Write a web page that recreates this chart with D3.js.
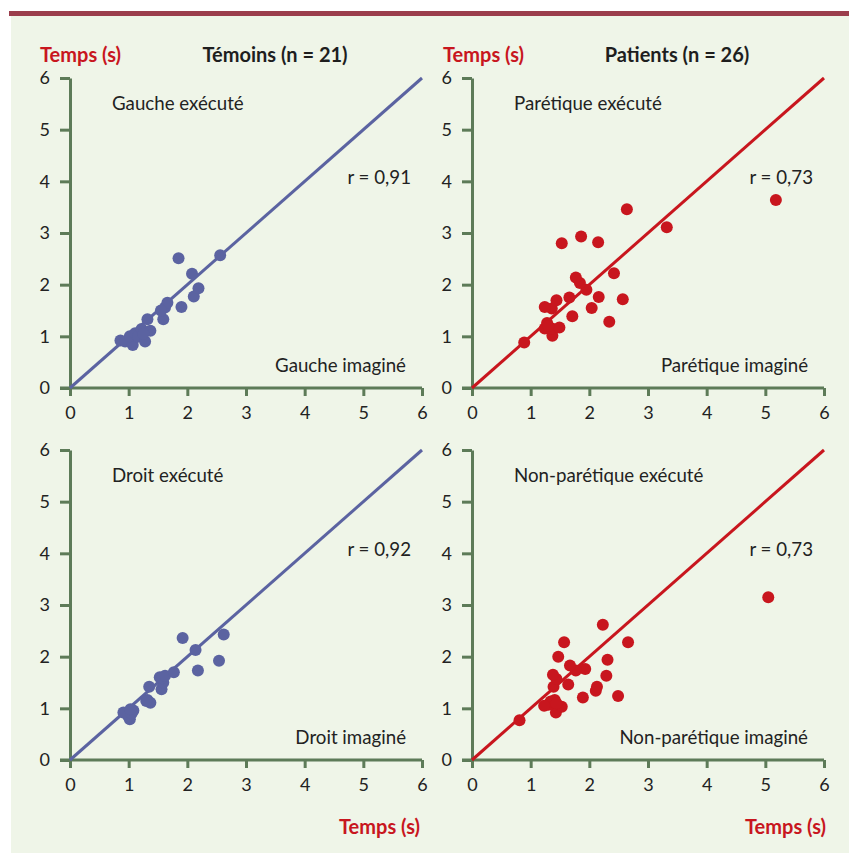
<!DOCTYPE html>
<html>
<head>
<meta charset="utf-8">
<script src="https://cdn.jsdelivr.net/npm/d3@7"></script>
<style>
  body { margin: 0; background: #fff; }
  svg text { font-family: Lato, "Open Sans", sans-serif; }
</style>
</head>
<body>
<div id="chart"></div>
<script>
// axis ticks
const ticks = [0, 1, 2, 3, 4, 5, 6];

// Témoins, gauche
const gaucheX = [0.86, 0.94, 1.07, 1.02, 1.11, 1.16, 1.22, 1.28, 1.32, 1.37, 1.25, 1.59, 1.62, 1.66, 1.55, 1.90, 1.85, 2.11, 2.19, 2.08, 2.56];
const gaucheY = [0.92, 0.90, 0.83, 1.00, 1.06, 0.99, 1.14, 0.90, 1.33, 1.11, 1.05, 1.33, 1.56, 1.65, 1.50, 1.57, 2.51, 1.77, 1.93, 2.21, 2.57];

// Patients, parétique
const pareX = [0.89, 1.37, 1.24, 1.36, 1.49, 1.28, 1.30, 2.34, 1.71, 2.04, 1.36, 1.24, 1.44, 2.57, 2.16, 1.66, 1.95, 1.84, 1.77, 2.42, 2.15, 1.86, 1.53, 3.32, 2.64, 5.18];
const pareY = [0.88, 1.01, 1.15, 1.15, 1.17, 1.26, 1.20, 1.28, 1.39, 1.55, 1.54, 1.57, 1.70, 1.72, 1.76, 1.75, 1.90, 2.03, 2.14, 2.22, 2.82, 2.93, 2.80, 3.11, 3.46, 3.64];

// Témoins, droit
const droitX = [0.91, 1.08, 1.02, 0.99, 1.05, 1.03, 1.32, 1.37, 1.30, 1.35, 1.56, 1.59, 1.53, 1.57, 1.62, 1.77, 2.18, 2.54, 2.14, 1.92, 2.62];
const droitY = [0.92, 0.96, 0.79, 0.85, 0.90, 0.98, 1.16, 1.11, 1.14, 1.42, 1.37, 1.50, 1.60, 1.58, 1.63, 1.70, 1.73, 1.92, 2.13, 2.36, 2.43];

// Patients, non-parétique
const nonPareX = [0.81, 1.43, 1.53, 1.30, 1.41, 1.34, 1.44, 1.23, 2.49, 1.89, 2.11, 2.13, 1.39, 1.64, 2.29, 1.44, 1.38, 1.93, 1.77, 1.67, 2.31, 1.47, 1.57, 2.66, 2.23, 5.05];
const nonPareY = [0.77, 0.92, 1.03, 1.07, 1.16, 1.13, 1.10, 1.05, 1.24, 1.21, 1.34, 1.42, 1.42, 1.46, 1.63, 1.57, 1.65, 1.76, 1.73, 1.83, 1.94, 2.00, 2.28, 2.28, 2.62, 3.15];

const panels = [
  {x: gaucheX, y: gaucheY, color: "#5b63a1", left: 70, top: 78, top_label: "Gauche exécuté", bottom_label: "Gauche imaginé", r: "r = 0,91"},
  {x: pareX, y: pareY, color: "#c8161e", left: 472, top: 78, top_label: "Parétique exécuté", bottom_label: "Parétique imaginé", r: "r = 0,73"},
  {x: droitX, y: droitY, color: "#5b63a1", left: 70, top: 450, top_label: "Droit exécuté", bottom_label: "Droit imaginé", r: "r = 0,92"},
  {x: nonPareX, y: nonPareY, color: "#c8161e", left: 472, top: 450, top_label: "Non-parétique exécuté", bottom_label: "Non-parétique imaginé", r: "r = 0,73"}
];

const width = 849, height = 857;
const panel_width = 352, panel_height = 310;
const axisColor = "#5d7b58";
const red = "#c8161e";

const svg = d3.select("#chart")
    .append("svg")
    .attr("width", width)
    .attr("height", height);

// background and top bar
svg.append("rect")
    .attr("x", 11).attr("y", 16)
    .attr("width", width - 11).attr("height", height - 20)
    .attr("fill", "#eff5e8");
svg.append("rect")
    .attr("x", 9).attr("y", 11)
    .attr("width", width - 9).attr("height", 5)
    .attr("fill", "#9b3e4c");

panels.forEach(p => {
    const x = d3.scaleLinear().domain([0, 6]).range([0, panel_width]);
    const y = d3.scaleLinear().domain([0, 6]).range([panel_height, 0]);

    const g = svg.append("g")
        .attr("transform", `translate(${p.left},${p.top})`);

    const yAxis = g.append("g")
        .call(d3.axisLeft(y).tickValues(ticks).tickFormat(d3.format("d")).tickSize(10).tickSizeOuter(0).tickPadding(10));
    const xAxis = g.append("g")
        .attr("transform", `translate(0,${panel_height})`)
        .call(d3.axisBottom(x).tickValues(ticks).tickFormat(d3.format("d")).tickSize(8).tickSizeOuter(0).tickPadding(10));

    [xAxis, yAxis].forEach(a => {
        a.selectAll("path, line")
            .attr("stroke", axisColor)
            .attr("stroke-width", 3);
        a.selectAll("text")
            .attr("fill", "#222")
            .style("font-size", "18px");
    });
    xAxis.select(".domain").attr("d", `M-10,0H${panel_width}`);

    // y = x line
    g.append("line")
        .attr("x1", x(0)).attr("y1", y(0))
        .attr("x2", x(6)).attr("y2", y(6))
        .attr("stroke", p.color)
        .attr("stroke-width", 3);

    g.selectAll("circle")
        .data(p.x.map((v, i) => [v, p.y[i]]))
        .enter()
        .append("circle")
        .attr("cx", d => x(d[0]))
        .attr("cy", d => y(d[1]))
        .attr("r", 6)
        .attr("fill", p.color);

    g.append("text")
        .attr("x", 42).attr("y", 32)
        .attr("fill", "#222")
        .style("font-size", "18.7px")
        .text(p.top_label);
    g.append("text")
        .attr("x", 341).attr("y", 106)
        .attr("text-anchor", "end")
        .attr("fill", "#222")
        .style("font-size", "18.7px")
        .text(p.r);
    g.append("text")
        .attr("x", 336).attr("y", panel_height - 16)
        .attr("text-anchor", "end")
        .attr("fill", "#222")
        .style("font-size", "18.7px")
        .text(p.bottom_label);
});

// column headers
[{x: 40, title: "Témoins (n = 21)", cx: 275}, {x: 443, title: "Patients (n = 26)", cx: 677}].forEach(c => {
    svg.append("text")
        .attr("x", c.x).attr("y", 62)
        .attr("fill", red)
        .style("font-size", "20px")
        .style("font-weight", "bold")
        .text("Temps (s)");
    svg.append("text")
        .attr("x", c.cx).attr("y", 62)
        .attr("text-anchor", "middle")
        .attr("fill", "#1e1e1e")
        .style("font-size", "20px")
        .style("font-weight", "bold")
        .text(c.title);
});

[420, 826].forEach(xe => {
    svg.append("text")
        .attr("x", xe).attr("y", 834)
        .attr("text-anchor", "end")
        .attr("fill", red)
        .style("font-size", "20px")
        .style("font-weight", "bold")
        .text("Temps (s)");
});
</script>
</body>
</html>
